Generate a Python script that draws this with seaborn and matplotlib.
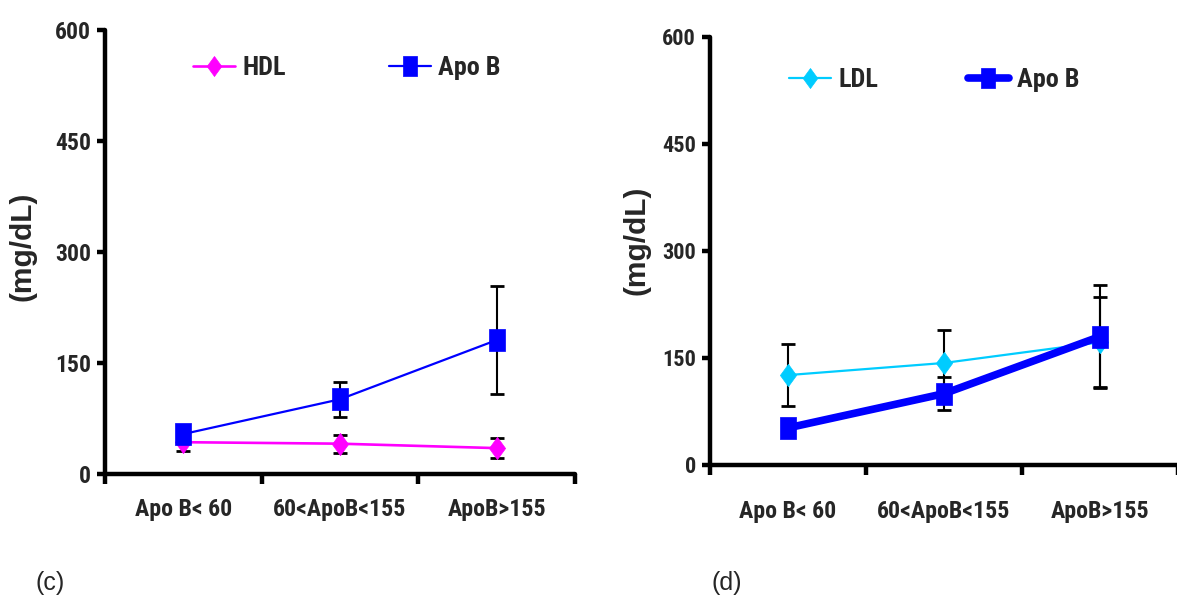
import matplotlib
matplotlib.use("Agg")
import matplotlib.pyplot as plt
import seaborn as sns
import pandas as pd
import numpy as np
from matplotlib import font_manager

categories = ["Apo B< 60", "60<ApoB<155", "ApoB>155"]

# Panel (c)
hdl_c = [43, 41, 35]
hdl_c_err = [12, 12, 14]
apob_c = [54, 101, 181]
apob_c_err = [8, 24, 73]

# Panel (d)
ldl_d = [126, 143, 172]
ldl_d_err = [44, 46, 63]
apob_d = [52, 100, 180]
apob_d_err = [8, 23, 72]

yticks = [0, 150, 300, 450, 600]

sns.set_theme(style="white")
names = {f.name for f in font_manager.fontManager.ttflist}
if "Liberation Sans Narrow" in names:
    cond, wf = "Liberation Sans Narrow", 0.82
elif "Roboto Condensed" in names:
    cond, wf = "Roboto Condensed", 0.90
else:
    cond, wf = "Liberation Sans", 1.0
plt.rcParams["font.family"] = [cond, "DejaVu Sans"]


def fsize(width_size, height_size):
    return min(width_size / wf, height_size)


FS_X = fsize(15.5, 20)
FS_LEG = fsize(17, 21)
FS_Y1 = fsize(16, 17)
FS_Y2 = fsize(15, 16)

# tall (stretched) marker shapes as in the original
tall_square = [(-0.73, -1.0), (0.73, -1.0), (0.73, 1.0), (-0.73, 1.0), (-0.73, -1.0)]
tall_diamond = [(0.0, -1.0), (0.73, 0.0), (0.0, 1.0), (-0.73, 0.0), (0.0, -1.0)]

fig = plt.figure(figsize=(11.77, 6.02), dpi=100)
ax1 = fig.add_axes([0.0892, 0.2126, 0.3993, 0.7375])
ax2 = fig.add_axes([0.6032, 0.2276, 0.3976, 0.711])


def style_axis(ax, fs_y, xpad, lab_x, lab_y):
    ax.set_xlim(-0.5, 2.5)
    ax.set_ylim(0, 600)
    for s in ["top", "right"]:
        ax.spines[s].set_visible(False)
    for s in ["left", "bottom"]:
        ax.spines[s].set_linewidth(3.2)
        ax.spines[s].set_color("black")
        ax.spines[s].set_capstyle("round")
    ax.set_yticks(yticks)
    ax.set_yticklabels([str(v) for v in yticks], fontsize=fs_y, fontweight="bold")
    ax.set_xticks([-0.5, 0.5, 1.5, 2.5])
    ax.set_xticklabels([])
    ax.set_xticks([0, 1, 2], minor=True)
    ax.set_xticklabels(categories, minor=True, fontsize=FS_X, fontweight="bold")
    ax.tick_params(axis="x", which="major", direction="out", length=7, width=3.2, color="black", bottom=True)
    ax.tick_params(axis="x", which="minor", length=0, pad=xpad)
    ax.tick_params(axis="y", which="major", direction="out", length=6, width=3.2, color="black", left=True, pad=4)
    ax.set_ylabel("(mg/dL)", fontsize=21.5, fontweight="bold",
                  family=["Liberation Sans", "DejaVu Sans"])
    ax.yaxis.set_label_coords(lab_x, lab_y)
    ax.set_xlabel("")
    ax.grid(False)


x = np.arange(len(categories))
eb = dict(fmt="none", ecolor="black", elinewidth=1.5, capsize=5, capthick=2, zorder=1)

# Panel (c)
df_c = pd.DataFrame({"x": x, "HDL": hdl_c, "Apo B": apob_c})
ax1.errorbar(x, hdl_c, yerr=hdl_c_err, **eb)
ax1.errorbar(x, apob_c, yerr=apob_c_err, **eb)
sns.lineplot(data=df_c, x="x", y="HDL", ax=ax1, color="#FF00FF", marker=tall_diamond, markersize=16,
             markeredgecolor="#FF00FF", markeredgewidth=0.5, linewidth=1.9, label="HDL", zorder=2)
sns.lineplot(data=df_c, x="x", y="Apo B", ax=ax1, color="#0000FF", marker=tall_square, markersize=16,
             markeredgecolor="#0000FF", markeredgewidth=0.5, linewidth=1.6, label="Apo B", zorder=3)
style_axis(ax1, FS_Y1, 17, -0.145, 0.512)
ax1.legend(loc="center left", bbox_to_anchor=(0.187, 0.915), ncol=2, frameon=False,
           prop={"weight": "bold", "size": FS_LEG}, columnspacing=3.9, handlelength=1.6,
           handletextpad=0.3, markerscale=0.9, borderpad=0, borderaxespad=0)

# Panel (d)
df_d = pd.DataFrame({"x": x, "LDL": ldl_d, "Apo B": apob_d})
ax2.errorbar(x, ldl_d, yerr=ldl_d_err, **eb)
ax2.errorbar(x, apob_d, yerr=apob_d_err, **eb)
sns.lineplot(data=df_d, x="x", y="LDL", ax=ax2, color="#00CCFF", marker=tall_diamond, markersize=16,
             markeredgecolor="#00CCFF", markeredgewidth=0.5, linewidth=1.6, label="LDL", zorder=2)
sns.lineplot(data=df_d, x="x", y="Apo B", ax=ax2, color="#0000FF", marker=tall_square, markersize=16,
             markeredgecolor="#0000FF", markeredgewidth=0.5, linewidth=5.5, label="Apo B", zorder=3)
style_axis(ax2, FS_Y2, 25, -0.128, 0.526)
ax2.legend(loc="center left", bbox_to_anchor=(0.168, 0.9), ncol=2, frameon=False,
           prop={"weight": "bold", "size": FS_LEG}, columnspacing=3.4, handlelength=1.6,
           handletextpad=0.3, markerscale=0.9, borderpad=0, borderaxespad=0)

fig.text(50 / 1177, 1 - 583 / 602, "(c)", fontsize=18, ha="center", va="center",
         family=["Liberation Sans", "DejaVu Sans"])
fig.text(727 / 1177, 1 - 583 / 602, "(d)", fontsize=18, ha="center", va="center",
         family=["Liberation Sans", "DejaVu Sans"])

fig.savefig("out.png", dpi=100)
